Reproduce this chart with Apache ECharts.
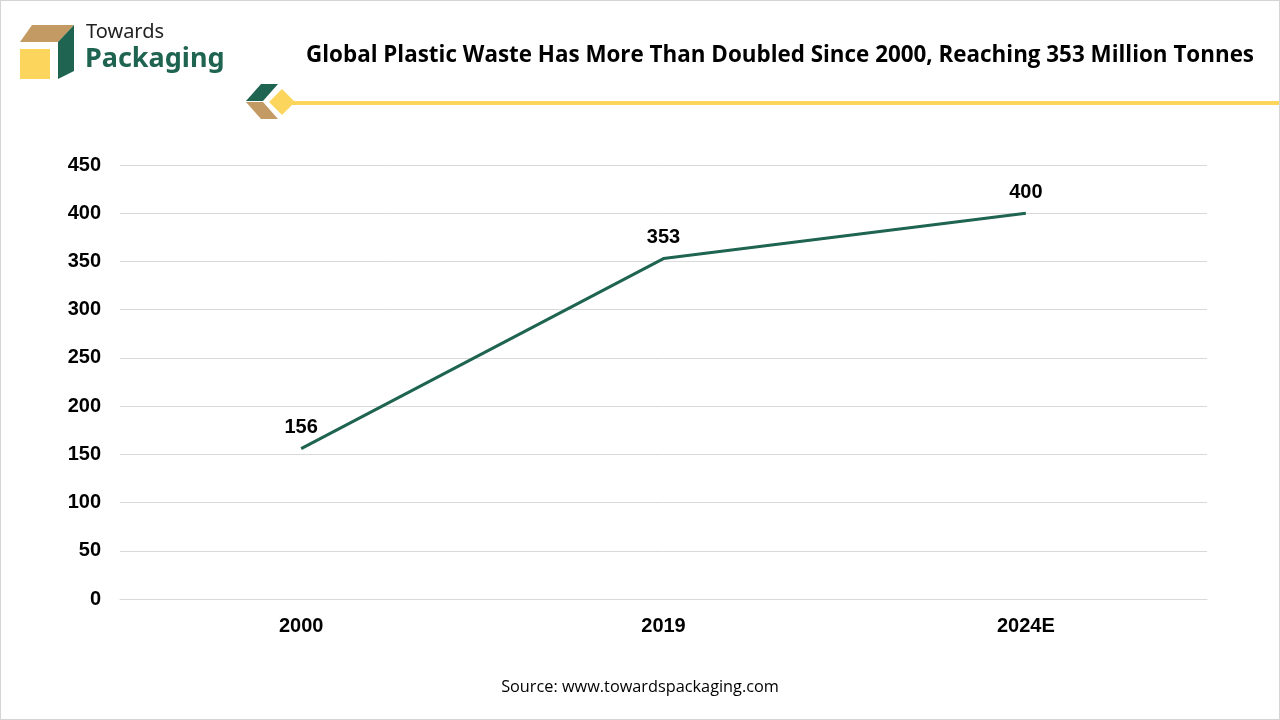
<!DOCTYPE html>
<html>
<head>
<meta charset="utf-8">
<script src="https://cdn.jsdelivr.net/npm/echarts@6/dist/echarts.min.js"></script>
<style>
  html, body { margin: 0; padding: 0; background: #fff; }
  #main { width: 1280px; height: 720px; box-sizing: border-box; border: 1px solid #d4d4d4; }
</style>
</head>
<body>
<div id="main"></div>
<script>
// data
var years = ['2000', '2019', '2024E'];
var wasteValues = [156, 353, 400];
var yTicks = { min: 0, max: 450, interval: 50 };

var green = '#1e6450';
var tan = '#c49a64';
var yellow = '#fcd65c';

var myChart = echarts.init(document.getElementById('main'));

var option = {
  animation: false,
  grid: { left: 119, right: 72, top: 164, bottom: 120 },
  xAxis: {
    type: 'category',
    data: years,
    boundaryGap: true,
    axisLine: { lineStyle: { color: '#d9d9d9' } },
    axisTick: { show: false },
    axisLabel: { color: '#000', fontSize: 20, fontWeight: 'bold', fontFamily: 'Liberation Sans', margin: 17 }
  },
  yAxis: {
    type: 'value',
    min: yTicks.min,
    max: yTicks.max,
    interval: yTicks.interval,
    axisLine: { show: false },
    axisTick: { show: false },
    splitLine: { lineStyle: { color: '#d9d9d9' } },
    axisLabel: { color: '#000', fontSize: 20, fontWeight: 'bold', fontFamily: 'Liberation Sans', margin: 19 }
  },
  series: [{
    type: 'line',
    data: wasteValues,
    symbol: 'circle',
    symbolSize: 0,
    itemStyle: { color: green },
    lineStyle: { color: green, width: 3 },
    label: {
      show: true,
      position: 'top',
      distance: 11,
      color: '#000',
      fontSize: 20,
      fontWeight: 'bold',
      fontFamily: 'Liberation Sans'
    }
  }],
  graphic: [
    // logo box
    { type: 'polygon', shape: { points: [[19, 41], [31, 24], [73, 24], [57, 41]] }, style: { fill: tan } },
    { type: 'polygon', shape: { points: [[57, 41], [73, 24], [73, 70], [57, 78]] }, style: { fill: green } },
    { type: 'rect', shape: { x: 19, y: 48, width: 30, height: 30 }, style: { fill: yellow } },
    { type: 'text', left: 85, top: 21, style: { text: 'Towards', font: '20px "Noto Sans"', fill: '#222' } },
    { type: 'text', left: 84, top: 45, style: { text: 'Packaging', font: 'bold 27px "Noto Sans"', fill: green } },
    // title
    { type: 'text', right: 25, top: 44, style: { text: 'Global Plastic Waste Has More Than Doubled Since 2000, Reaching 353 Million Tonnes', font: 'bold 22.4px "Open Sans"', fill: '#000' } },
    // divider decoration
    { type: 'polygon', shape: { points: [[245, 100], [260, 83], [277, 83], [262, 100]] }, style: { fill: green } },
    { type: 'polygon', shape: { points: [[245, 101], [262, 101], [277, 118], [260, 118]] }, style: { fill: tan } },
    { type: 'rect', shape: { x: 290, y: 100, width: 990, height: 4 }, style: { fill: yellow } },
    { type: 'polygon', shape: { points: [[268, 101], [281, 88], [294, 101], [281, 114]] }, style: { fill: yellow } },
    // source
    { type: 'text', left: 'center', top: 678, style: { text: 'Source: www.towardspackaging.com', font: '16.3px "Open Sans"', fill: '#000' } }
  ]
};

myChart.setOption(option);
</script>
</body>
</html>
